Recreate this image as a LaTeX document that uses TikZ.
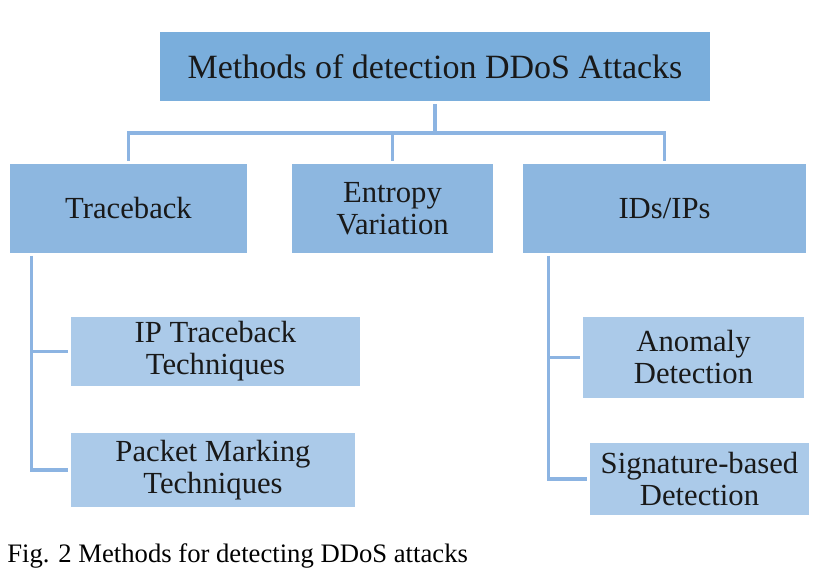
\documentclass[tikz,border=0pt]{standalone}
\usepackage{fontspec}
\setmainfont{Liberation Serif}
\usetikzlibrary{calc}
\definecolor{topblue}{RGB}{122,174,220}
\definecolor{midblue}{RGB}{141,183,224}
\definecolor{lowblue}{RGB}{171,202,233}
\definecolor{linkblue}{RGB}{140,180,226}
\tikzset{
  box/.style={inner sep=0pt,align=center,text=black!90},
  link/.style={draw=linkblue,line width=2.4pt,shorten <=2pt,shorten >=2pt}
}
\begin{document}
\begin{tikzpicture}[x=0.75pt,y=-0.75pt]
	\useasboundingbox (0,0) rectangle (835,582);
	\path (435,66.5) node[box,fill=topblue,minimum width=412.5pt,minimum height=51.75pt,
	font=\fontsize{25.5}{27}\selectfont](title){Methods of detection DDoS Attacks};
	\foreach \x/\w/\name/\texn in {128.5/177.75/trace/Traceback,
	392.5/150.75/entropy/Entropy\\Variation,664.5/212.25/ids/{IDs/IPs}}
	\path (\x,208.5) node[box,fill=midblue,minimum width=\w pt,minimum height=66.75pt,
	font=\fontsize{23}{24}\selectfont](\name){\texn};
	\foreach \x/\y/\w/\h/\name/\texn in {215.5/351.5/216.75/51.75/iptrace/IP Traceback\\Techniques,
	213/470/213/55.5/packet/Packet Marking\\Techniques,
	693.5/357.5/165.75/60.75/anomaly/Anomaly\\Detection,
	699.5/479/164.25/54/sign/Signature-based\\Detection}
	\path (\x,\y) node[box,fill=lowblue,minimum width=\w pt,minimum height=\h pt,
	font=\fontsize{23}{24}\selectfont](\name){\texn};
	\coordinate (bus) at (435,133);
	\draw[link,shorten >=0pt] (title.south) -- (bus);
	\draw[link,shorten <=0pt] (trace.north |- bus) -- (trace.north);
	\draw[link,shorten <=0pt] (entropy.north |- bus) -- (entropy.north);
	\draw[link,shorten <=0pt] (ids.north |- bus) -- (ids.north);
	\draw[link,shorten <=0pt,shorten >=0pt,line cap=rect] (trace.north |- bus) -- (ids.north |- bus);
	\draw[link] ($(trace.south west)+(22,0)$) |- (iptrace.west);
	\draw[link] ($(trace.south west)+(22,0)$) |- (packet.west);
	\draw[link] ($(ids.south west)+(26,0)$) |- (anomaly.west);
	\draw[link] ($(ids.south west)+(26,0)$) |- (sign.west);
	\path (7,562) node[anchor=base west,inner sep=0pt,font=\fontsize{20}{22}\selectfont](cap)
	{Fig. 2 Methods for detecting DDoS attacks};
\end{tikzpicture}
\end{document}
